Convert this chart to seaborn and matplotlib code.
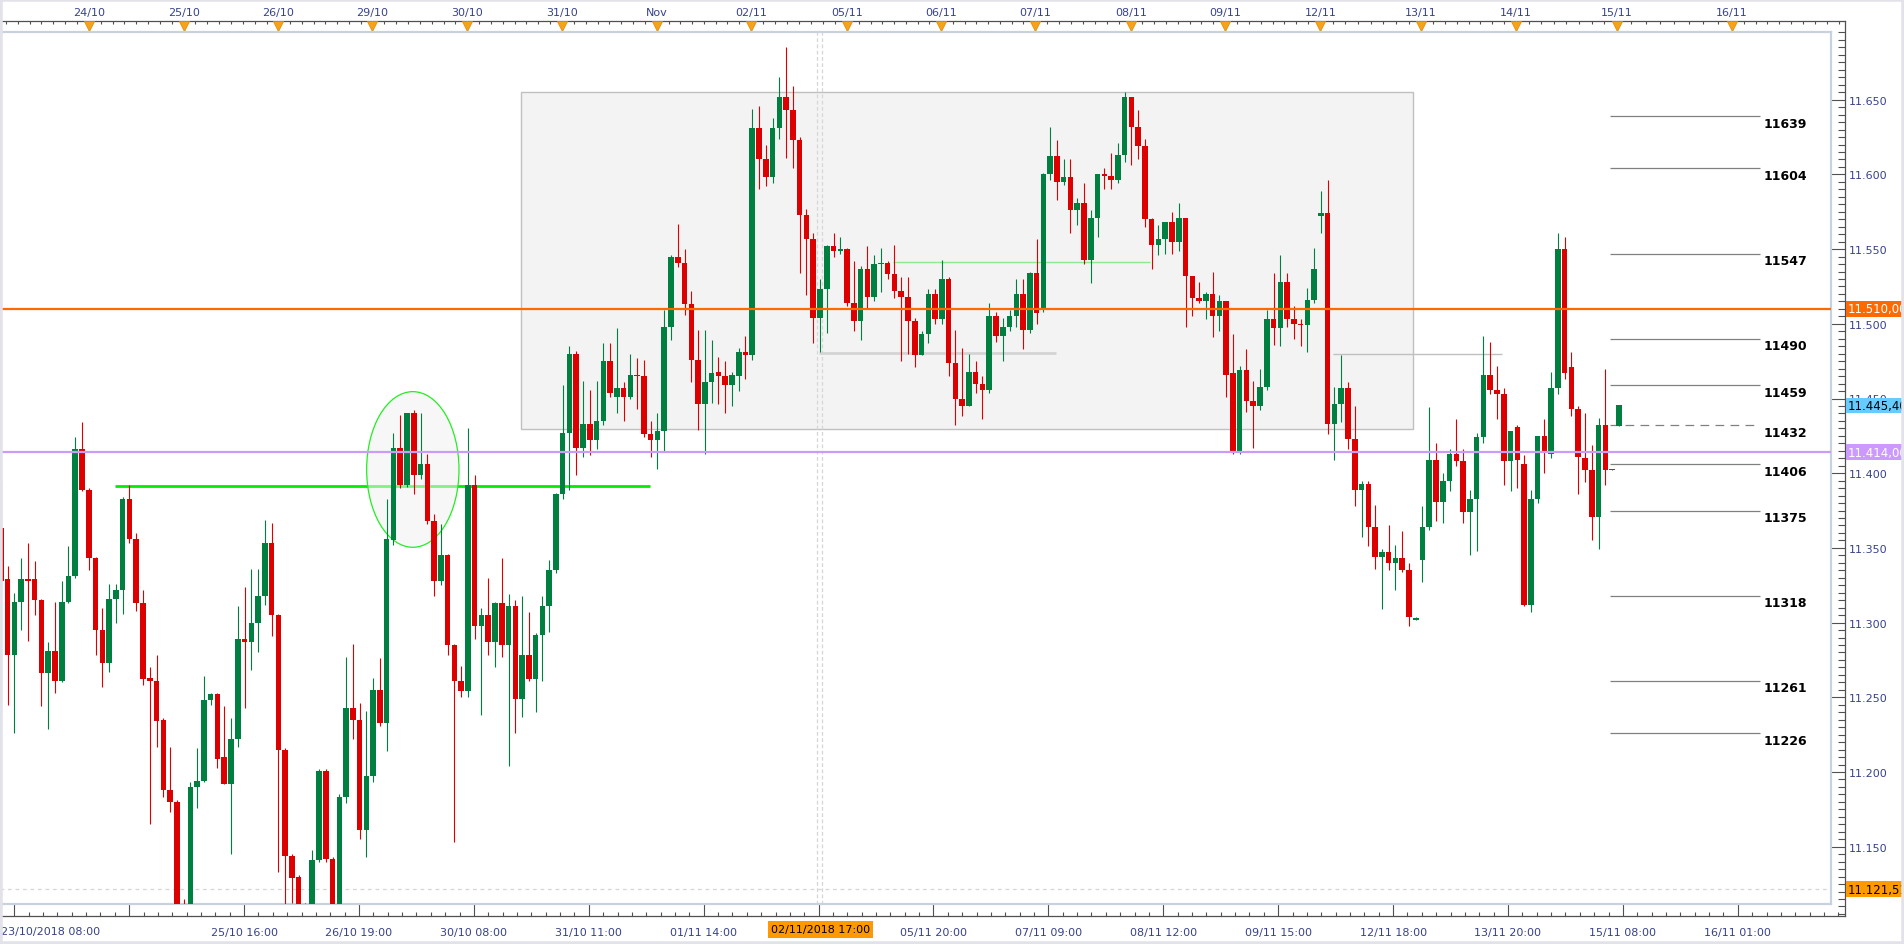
# %%
import numpy as np
import pandas as pd
import matplotlib
matplotlib.use("Agg")
import matplotlib.pyplot as plt
from matplotlib.patches import Rectangle, Ellipse
from matplotlib.ticker import FuncFormatter
import seaborn as sns

# hourly candles, 23/10/2018 09:00 .. 15/11/2018 08:00 (index points)
opens = [11363, 11329, 11278, 11314, 11329, 11329, 11315, 11266, 11281, 11261,
         11314, 11331, 11416, 11389, 11343, 11295, 11273, 11316, 11322, 11383,
         11356, 11313, 11263, 11261, 11235, 11188, 11180, 11108, 11098, 11190,
         11194, 11248, 11252, 11210, 11192, 11222, 11289, 11287, 11300, 11318,
         11353, 11305, 11215, 11144, 11130, 11105, 11100, 11141, 11201, 11142,
         11100, 11183, 11243, 11235, 11161, 11197, 11255, 11233, 11355, 11417,
         11392, 11440, 11399, 11406, 11368, 11328, 11345, 11285, 11261, 11254,
         11392, 11298, 11305, 11287, 11313, 11285, 11311, 11249, 11278, 11262,
         11292, 11311, 11335, 11386, 11427, 11480, 11417, 11433, 11422, 11435,
         11475, 11451, 11457, 11451, 11466, 11465, 11426, 11422, 11428, 11498,
         11545, 11541, 11513, 11476, 11446, 11461, 11468, 11465, 11459, 11465,
         11481, 11479, 11631, 11610, 11598, 11631, 11652, 11643, 11623, 11573,
         11557, 11504, 11523, 11552, 11549, 11550, 11514, 11502, 11537, 11518,
         11540, 11541, 11533, 11522, 11518, 11502, 11479, 11493, 11520, 11503,
         11530, 11474, 11450, 11445, 11468, 11460, 11456, 11505, 11492, 11498,
         11505, 11520, 11496, 11534, 11510, 11600, 11612, 11595, 11598, 11576,
         11581, 11543, 11571, 11600, 11599, 11596, 11613, 11652, 11632, 11619,
         11570, 11553, 11557, 11568, 11555, 11571, 11532, 11517, 11515, 11520,
         11505, 11515, 11467, 11414, 11469, 11448, 11445, 11458, 11503, 11497,
         11528, 11503, 11500, 11499, 11516, 11572, 11574, 11433, 11446, 11457,
         11423, 11389, 11393, 11364, 11344, 11347, 11340, 11343, 11335, 11302,
         11342, 11364, 11409, 11381, 11395, 11413, 11408, 11374, 11383, 11424,
         11466, 11456, 11453, 11408, 11431, 11406, 11312, 11383, 11425, 11413,
         11457, 11550, 11471, 11443, 11410, 11402, 11371, 11432, 11402, 11431.6]
highs = [11394, 11338, 11320, 11343, 11353, 11341, 11316, 11287, 11314, 11328,
         11351, 11424, 11434, 11390, 11344, 11310, 11326, 11326, 11384, 11392,
         11360, 11322, 11270, 11278, 11236, 11217, 11181, 11115, 11193, 11216,
         11264, 11253, 11253, 11244, 11236, 11311, 11324, 11336, 11336, 11369,
         11367, 11306, 11216, 11145, 11131, 11112, 11148, 11202, 11202, 11143,
         11185, 11277, 11286, 11246, 11241, 11263, 11276, 11383, 11427, 11439,
         11440, 11442, 11440, 11413, 11373, 11366, 11346, 11286, 11271, 11430,
         11399, 11310, 11330, 11314, 11343, 11319, 11315, 11318, 11307, 11293,
         11318, 11342, 11387, 11459, 11485, 11482, 11462, 11456, 11462, 11487,
         11487, 11497, 11461, 11480, 11477, 11476, 11435, 11440, 11509, 11546,
         11567, 11550, 11522, 11496, 11496, 11489, 11478, 11475, 11468, 11484,
         11492, 11644, 11646, 11620, 11638, 11665, 11685, 11659, 11625, 11577,
         11561, 11530, 11553, 11561, 11558, 11551, 11542, 11539, 11552, 11546,
         11551, 11542, 11553, 11531, 11531, 11504, 11495, 11523, 11523, 11543,
         11531, 11496, 11484, 11480, 11475, 11465, 11514, 11508, 11504, 11509,
         11530, 11530, 11535, 11557, 11601, 11632, 11623, 11610, 11610, 11584,
         11594, 11576, 11600, 11604, 11614, 11621, 11655, 11652, 11643, 11624,
         11571, 11566, 11568, 11575, 11581, 11571, 11532, 11528, 11521, 11535,
         11519, 11515, 11493, 11472, 11483, 11462, 11470, 11509, 11534, 11546,
         11534, 11512, 11503, 11524, 11551, 11589, 11596, 11458, 11479, 11461,
         11445, 11395, 11395, 11379, 11349, 11365, 11352, 11361, 11340, 11303.5,
         11378, 11444, 11420, 11400, 11416, 11436, 11416, 11389, 11427, 11492,
         11488, 11472, 11457, 11428, 11432, 11412, 11389, 11425, 11436, 11468,
         11561, 11558, 11481, 11445, 11440, 11419, 11437, 11470, 11403, 11445.6]
lows = [11324, 11245, 11226, 11295, 11288, 11305, 11244, 11229, 11253, 11260,
        11313, 11330, 11388, 11335, 11278, 11257, 11267, 11300, 11306, 11353,
        11308, 11258, 11165, 11217, 11183, 11173, 11085, 11080, 11090, 11176,
        11193, 11245, 11203, 11192, 11145, 11217, 11243, 11268, 11280, 11312,
        11291, 11133, 11100, 11112, 11095, 11090, 11090, 11140, 11140, 11095,
        11095, 11179, 11222, 11155, 11143, 11193, 11231, 11214, 11352, 11390,
        11391, 11386, 11396, 11366, 11318, 11325, 11278, 11153, 11250, 11250,
        11289, 11238, 11278, 11270, 11277, 11204, 11226, 11237, 11261, 11240,
        11261, 11294, 11333, 11383, 11389, 11399, 11411, 11412, 11416, 11432,
        11451, 11440, 11435, 11450, 11443, 11424, 11411, 11403, 11415, 11489,
        11538, 11506, 11461, 11429, 11413, 11447, 11446, 11440, 11445, 11455,
        11463, 11476, 11590, 11592, 11594, 11624, 11611, 11604, 11534, 11519,
        11487, 11481, 11494, 11545, 11547, 11512, 11495, 11489, 11510, 11515,
        11521, 11530, 11517, 11475, 11480, 11471, 11479, 11487, 11500, 11500,
        11465, 11432, 11438, 11445, 11454, 11436, 11454, 11488, 11475, 11495,
        11498, 11483, 11494, 11500, 11508, 11596, 11583, 11593, 11561, 11566,
        11540, 11527, 11558, 11590, 11590, 11594, 11608, 11606, 11610, 11565,
        11537, 11546, 11547, 11547, 11549, 11498, 11505, 11514, 11503, 11491,
        11495, 11451, 11413, 11413, 11441, 11417, 11442, 11456, 11486, 11485,
        11498, 11490, 11485, 11481, 11514, 11561, 11426, 11409, 11434, 11416,
        11378, 11357, 11351, 11336, 11309, 11335, 11322, 11334, 11298, 11302,
        11327, 11362, 11368, 11367, 11388, 11405, 11367, 11345, 11348, 11420,
        11453, 11436, 11392, 11388, 11390, 11311, 11307, 11380, 11400, 11410,
        11453, 11463, 11438, 11386, 11394, 11355, 11349, 11392, 11402, 11431.6]
closes = [11328, 11278, 11314, 11329, 11328, 11315, 11266, 11281, 11261, 11314,
          11331, 11416, 11389, 11343, 11295, 11273, 11316, 11322, 11383, 11356,
          11313, 11262, 11261, 11234, 11188, 11180, 11095, 11098, 11190, 11194,
          11248, 11252, 11209, 11192, 11222, 11289, 11287, 11300, 11318, 11353,
          11305, 11215, 11144, 11129, 11105, 11100, 11141, 11201, 11142, 11105,
          11183, 11243, 11235, 11161, 11197, 11255, 11233, 11356, 11417, 11392,
          11440, 11399, 11406, 11368, 11328, 11345, 11285, 11261, 11254, 11392,
          11298, 11305, 11287, 11313, 11285, 11311, 11249, 11278, 11262, 11292,
          11311, 11335, 11386, 11427, 11480, 11417, 11433, 11422, 11435, 11475,
          11454, 11457, 11451, 11466, 11465, 11426, 11422, 11428, 11498, 11545,
          11541, 11513, 11476, 11446, 11461, 11467, 11465, 11459, 11466, 11481,
          11479, 11631, 11610, 11598, 11631, 11652, 11643, 11623, 11573, 11557,
          11504, 11523, 11552, 11549, 11550, 11514, 11502, 11537, 11518, 11540,
          11541, 11533, 11522, 11518, 11502, 11479, 11493, 11520, 11503, 11530,
          11474, 11450, 11445, 11468, 11460, 11456, 11505, 11492, 11498, 11505,
          11520, 11496, 11534, 11507, 11600, 11612, 11595, 11598, 11576, 11581,
          11543, 11571, 11600, 11599, 11596, 11613, 11652, 11632, 11619, 11570,
          11553, 11557, 11568, 11555, 11571, 11532, 11517, 11515, 11520, 11505,
          11515, 11466, 11414, 11469, 11448, 11445, 11458, 11503, 11497, 11528,
          11503, 11500, 11499, 11516, 11537, 11574, 11433, 11446, 11457, 11423,
          11389, 11393, 11364, 11344, 11347, 11340, 11343, 11335, 11304, 11303,
          11364, 11409, 11381, 11395, 11413, 11408, 11374, 11383, 11424, 11466,
          11456, 11453, 11408, 11428, 11409, 11312, 11383, 11425, 11414, 11457,
          11550, 11467, 11443, 11411, 11402, 11371, 11432, 11402, 11402.5, 11445.4]

# horizontal levels and drawings
resistance = 11510.0
support = 11414.0
last_price = 11445.40
cross_price = 11121.51
cross_x = [120.56, 121.34]
green_line = (16.9, 95.9, 11391.7)
light_green_line = (131.8, 169.7, 11541.1)
grey_line_1 = (120.9, 155.8, 11480.7)
grey_line_2 = (196.8, 221.7, 11479.6)
box_range = (76.9, 208.6, 11429.6, 11654.9)
ellipse_box = (60.86, 11402.5, 13.64, 104.2)
fib_levels = [11639, 11604, 11547, 11490, 11459, 11432, 11406, 11375, 11318, 11261, 11226]
fib_x = (237.7, 259.9)

day_labels = ["24/10", "25/10", "26/10", "29/10", "30/10", "31/10", "Nov", "02/11", "05/11",
              "06/11", "07/11", "08/11", "09/11", "12/11", "13/11", "14/11", "15/11", "16/11"]
day_pos = [13.0, 27.0, 41.0, 54.9, 68.9, 82.9, 96.9, 110.8, 125.0,
           138.9, 152.8, 166.9, 180.8, 194.9, 209.8, 223.8, 238.7, 255.7]
time_labels = ["", "", "25/10 16:00", "26/10 19:00", "30/10 08:00", "31/10 11:00", "01/11 14:00", "",
               "05/11 20:00", "07/11 09:00", "08/11 12:00", "09/11 15:00", "12/11 18:00",
               "13/11 20:00", "15/11 08:00", "16/11 01:00"]

df = pd.DataFrame({"open": opens, "high": highs, "low": lows, "close": closes})
df["idx"] = np.arange(len(df))
df["up"] = df["close"] >= df["open"]

# pixel layout of the original screen
W, H = 1904, 945
X0, DX = 0.8, 6.77            # px of candle 0, px per candle
Y_REF, P_REF, PPP = 100.7, 11650, 1.494


def ix(px):
    return (px - X0) / DX


def pr(py):
    return P_REF - (py - Y_REF) / PPP


def axes_px(l, t, r, b):
    return [l / W, 1 - b / H, (r - l) / W, (b - t) / H]


sns.set_style("white")
plt.rcParams["font.family"] = ["DejaVu Sans"]
TXT = "#37428a"
GREEN, RED = "#008040", "#dd0000"

fig = plt.figure(figsize=(W / 100, H / 100), dpi=100)
fig.patch.set_facecolor("white")

# outer axis box (ticks / labels)
ax_out = fig.add_axes(axes_px(0, 21.7, 1845, 917))
ax_out.set_xlim(ix(0), ix(1845))
ax_out.set_ylim(pr(917), pr(21.7))
for s in ["top", "right", "bottom"]:
    ax_out.spines[s].set_color("#505050")
    ax_out.spines[s].set_linewidth(0.9)
ax_out.spines["left"].set_visible(False)

ax_out.yaxis.tick_right()
ax_out.set_yticks(np.arange(11150, 11651, 50))
ax_out.set_yticks(np.arange(11105, 11700, 5), minor=True)
ax_out.yaxis.set_major_formatter(FuncFormatter(lambda v, _: f"{v / 1000:.3f}"))
ax_out.tick_params(axis="y", which="major", direction="in", length=10.5, width=0.8,
                   color="#505050", labelsize=8, labelcolor=TXT, pad=2.5,
                   left=False, right=True, labelleft=False, labelright=True)
ax_out.tick_params(axis="y", which="minor", direction="in", length=5, width=0.8,
                   color="#505050", left=False, right=True)

bt_pos = [ix(14.3 + 114.9 * k) for k in range(len(time_labels))]
ax_out.set_xticks(bt_pos, labels=time_labels)
ax_out.set_xticks([ix(p) for p in np.arange(14.3, 1845, 114.9 / 8)], minor=True)
ax_out.tick_params(axis="x", which="major", direction="in", length=10, width=0.8,
                   color="#505050", labelsize=8, labelcolor=TXT, pad=8)
ax_out.tick_params(axis="x", which="minor", direction="in", length=3, width=0.8,
                   color="#505050")
ax_out.text(ix(1), pr(932), "23/10/2018 08:00", ha="left", va="center",
            fontsize=8, color=TXT, clip_on=False)

# top axis with day marks
ax_top = ax_out.twiny()
ax_top.set_xlim(ix(0), ix(1845))
ax_top.set_xticks(day_pos, labels=day_labels)
minor_top = []
for a, b in zip(day_pos[:-1], day_pos[1:]):
    minor_top.extend(np.linspace(a, b, 9)[1:-1])
minor_top.extend(day_pos[0] - np.arange(1, 8) * 1.75)
minor_top.extend(day_pos[-1] + np.arange(1, 10) * 1.75)
ax_top.set_xticks([m for m in minor_top if ix(0) < m < ix(1845)], minor=True)
ax_top.tick_params(axis="x", which="major", direction="in", length=8, width=0.8,
                   color="#a0a0a0", labelsize=8, labelcolor=TXT, pad=3)
ax_top.tick_params(axis="x", which="minor", direction="in", length=2.5, width=0.8,
                   color="#505050")
for s in ax_top.spines.values():
    s.set_visible(False)
sns.scatterplot(x=day_pos, y=[pr(27)] * len(day_pos), marker="v", s=55,
                color="#f5a31a", edgecolor="#e08600", linewidth=0.5,
                ax=ax_top, legend=False, clip_on=False, zorder=5)

# main plot area
ax = fig.add_axes(axes_px(0, 33, 1831, 905))
ax.set_xlim(ix(0), ix(1831))
ax.set_ylim(pr(905), pr(33))
ax.set_facecolor("white")
ax.set_xticks([])
ax.set_yticks([])
for s in ax.spines.values():
    s.set_color("#c8d2de")
    s.set_linewidth(1.6)

# rectangle zone
x1, x2, y1, y2 = box_range
ax.add_patch(Rectangle((x1, y1), x2 - x1, y2 - y1, facecolor="#f3f3f3",
                       edgecolor="#c0c0c0", linewidth=1.0, zorder=1))

# support line and circled zone
gx1, gx2, gy = green_line
ax.hlines(gy, gx1, gx2, color="#00ee00", linewidth=2.0, zorder=1.6)
ex, ey, ew, eh = ellipse_box
ax.add_patch(Ellipse((ex, ey), ew, eh, facecolor=(0.95, 0.95, 0.95, 0.55),
                     edgecolor="#22ee22", linewidth=0.9, zorder=1.8))

for (lx1, lx2, ly), col, lw in [(light_green_line, "#90e890", 1.0),
                                (grey_line_1, "#d4d4d4", 2.0),
                                (grey_line_2, "#c0c0c0", 1.0)]:
    ax.hlines(ly, lx1, lx2, color=col, linewidth=lw, zorder=2)

# crosshair
ax.axhline(cross_price, color="#d6d6d6", linewidth=0.9, linestyle=(0, (3, 3)), zorder=1.5)
for cx in cross_x:
    ax.axvline(cx, color="#d6d6d6", linewidth=0.9, linestyle=(0, (3, 2)), zorder=1.5)

# candles
ax.vlines(df["idx"], df["low"], df["high"],
          colors=np.where(df["up"], GREEN, RED), linewidth=0.8, zorder=3)
body_h = (df["close"] - df["open"]).abs().clip(lower=0.8)
body_b = df[["open", "close"]].min(axis=1)
ax.bar(df["idx"], body_h, bottom=body_b, width=0.82,
       color=np.where(df["up"], GREEN, RED), linewidth=0, zorder=3.1)

# key horizontal levels
ax.axhline(resistance, color="#ff6a00", linewidth=1.6, zorder=4)
ax.axhline(support, color="#c99cf7", linewidth=1.6, zorder=4)

# fibonacci style levels on the right
for lv in fib_levels:
    ls = (0, (7, 5)) if lv == 11432 else "-"
    ax.hlines(lv, fib_x[0], fib_x[1], color="#808080", linewidth=0.9, linestyles=ls, zorder=2)
    ax.text(ix(1764), lv - 4.7, str(lv), ha="left", va="center", fontsize=9,
            fontweight="bold", color="black", zorder=5)

# price boxes on the right axis
for price, bg, fg, txt in [(resistance, "#ff6a00", "white", "11.510,00"),
                           (last_price, "#66ccff", "black", "11.445,40"),
                           (support, "#cc99ff", "white", "11.414,00"),
                           (cross_price, "#ff9900", "black", "11.121,51")]:
    yc = Y_REF + (P_REF - price) * PPP
    ax_out.add_patch(Rectangle((ix(1846), pr(yc + 7.8)), ix(1904) - ix(1846), 15.6 / PPP,
                               facecolor=bg, edgecolor="none", clip_on=False, zorder=6))
    ax_out.text(ix(1848), price, txt, ha="left", va="center", fontsize=8.5,
                color=fg, clip_on=False, zorder=7)

# crosshair time label
ax_out.add_patch(Rectangle((ix(768), pr(939)), ix(873) - ix(768), 17 / PPP,
                           facecolor="#ff9900", edgecolor="none", clip_on=False, zorder=6))
ax_out.text(ix(820.5), pr(930.5), "02/11/2018 17:00", ha="center", va="center",
            fontsize=8, color="black", clip_on=False, zorder=7)

# light outer border of the widget
fig.add_artist(Rectangle((0, 0), 1, 1, transform=fig.transFigure, fill=False,
                         edgecolor="#e2e2ea", linewidth=4))

fig.savefig("out.png", dpi=100)
